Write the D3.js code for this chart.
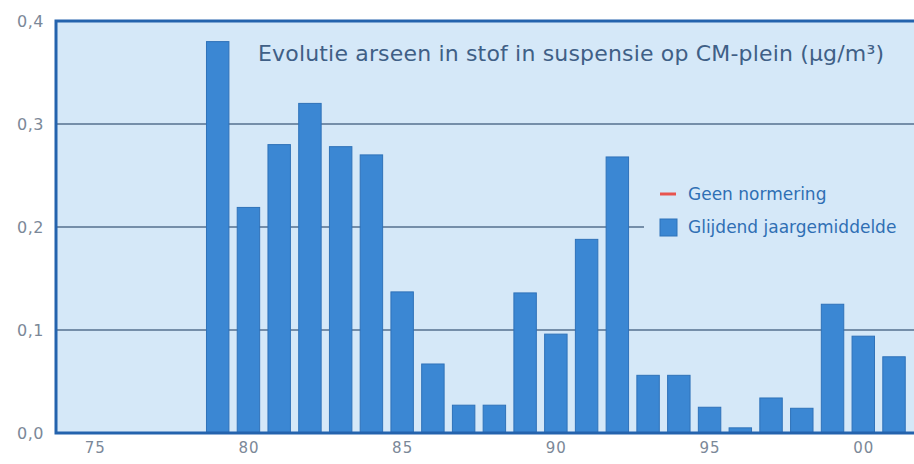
<!DOCTYPE html>
<html>
<head>
<meta charset="utf-8">
<script src="https://cdn.jsdelivr.net/npm/d3@7"></script>
<style>
  body { margin: 0; background: #fff; }
  text { font-family: "DejaVu Sans", "Open Sans", sans-serif; }
</style>
</head>
<body>
<svg width="914" height="464"></svg>
<script>
/* data */
var years = [79, 80, 81, 82, 83, 84, 85, 86, 87, 88, 89, 90, 91, 92, 93, 94, 95, 96, 97, 98, 99, 100, 101];
var values = [0.380, 0.219, 0.280, 0.320, 0.278, 0.270, 0.137, 0.067, 0.027, 0.027, 0.136, 0.096,
              0.188, 0.268, 0.056, 0.056, 0.025, 0.005, 0.034, 0.024, 0.125, 0.094, 0.074];
var xTicks = [75, 80, 85, 90, 95, 100];
var xTickLabels = ["75", "80", "85", "90", "95", "00"];
var yTicks = [0, 0.1, 0.2, 0.3, 0.4];
var title = "Evolutie arseen in stof in suspensie op CM-plein (\u00b5g/m\u00b3)";
var legendItems = ["Geen normering", "Glijdend jaargemiddelde"];

var data = years.map(function(y, i) { return {year: y, value: values[i]}; });

var svg = d3.select("svg"),
    margin = {top: 21, right: 0, bottom: 31, left: 56},
    w = +svg.attr("width") - margin.left - margin.right,
    h = +svg.attr("height") - margin.top - margin.bottom;

var x = d3.scaleLinear().domain([73.74, 101.65]).range([0, w]),
    y = d3.scaleLinear().domain([0, 0.4]).range([h, 0]);

var step = x(1) - x(0),
    barW = step * 0.73;

var g = svg.append("g")
    .attr("transform", "translate(" + margin.left + "," + margin.top + ")");

// panel
g.append("rect")
    .attr("width", w)
    .attr("height", h)
    .attr("fill", "#d5e8f8");

// gridlines
g.append("g")
  .selectAll("line")
  .data(yTicks.slice(1, 4))
  .enter().append("line")
    .attr("x1", 0)
    .attr("x2", w)
    .attr("y1", function(d) { return y(d); })
    .attr("y2", function(d) { return y(d); })
    .attr("stroke", "#55718f")
    .attr("stroke-width", 1.3);

// legend backdrop hides the grid line
g.append("rect")
    .attr("x", 588)
    .attr("y", 158)
    .attr("width", w - 588)
    .attr("height", 66)
    .attr("fill", "#d5e8f8");

// bars
g.append("g")
  .selectAll("rect")
  .data(data)
  .enter().append("rect")
    .attr("x", function(d) { return x(d.year) - barW / 2; })
    .attr("y", function(d) { return y(d.value); })
    .attr("width", barW)
    .attr("height", function(d) { return h - y(d.value); })
    .attr("fill", "#3b87d3")
    .attr("stroke", "#2f72b9")
    .attr("stroke-width", 1);

// frame: left, top, bottom
g.append("path")
    .attr("d", "M" + w + ",0H0V" + h + "H" + w)
    .attr("fill", "none")
    .attr("stroke", "#2463ad")
    .attr("stroke-width", 3);

// y axis labels
var yAxis = d3.axisLeft(y)
    .tickValues(yTicks)
    .tickSize(0)
    .tickPadding(12)
    .tickFormat(function(d) { return d3.format(".1f")(d).replace(".", ","); });

g.append("g")
    .call(yAxis)
    .call(function(s) { s.select(".domain").remove(); })
    .selectAll("text")
    .attr("font-family", "DejaVu Sans")
    .attr("font-size", 16)
    .attr("letter-spacing", 0.5)
    .attr("fill", "#7b8898");

// x axis labels
var xAxis = d3.axisBottom(x)
    .tickValues(xTicks)
    .tickSize(0)
    .tickPadding(9)
    .tickFormat(function(d, i) { return xTickLabels[i]; });

g.append("g")
    .attr("transform", "translate(0," + h + ")")
    .call(xAxis)
    .call(function(s) { s.select(".domain").remove(); })
    .selectAll("text")
    .attr("font-family", "DejaVu Sans")
    .attr("font-size", 15)
    .attr("letter-spacing", 1)
    .attr("fill", "#7b8898");

// title
g.append("text")
    .attr("x", 202)
    .attr("y", 40)
    .attr("font-size", 22)
    .attr("textLength", 626)
    .attr("fill", "#3f5f86")
    .text(title);

// legend
var lg = g.append("g").attr("transform", "translate(604,173)");
lg.append("line")
    .attr("x1", 0).attr("x2", 16)
    .attr("y1", 0).attr("y2", 0)
    .attr("stroke", "#e8544f")
    .attr("stroke-width", 3);
lg.append("rect")
    .attr("x", 0).attr("y", 25)
    .attr("width", 17).attr("height", 17)
    .attr("fill", "#3b87d3")
    .attr("stroke", "#2f72b9");
lg.selectAll("text.item")
  .data(legendItems)
  .enter().append("text")
    .attr("class", "item")
    .attr("x", 28)
    .attr("y", function(d, i) { return i * 33; })
    .attr("dy", "0.35em")
    .attr("font-size", 17)
    .attr("fill", "#2f6fb4")
    .text(function(d) { return d; });
</script>
</body>
</html>
